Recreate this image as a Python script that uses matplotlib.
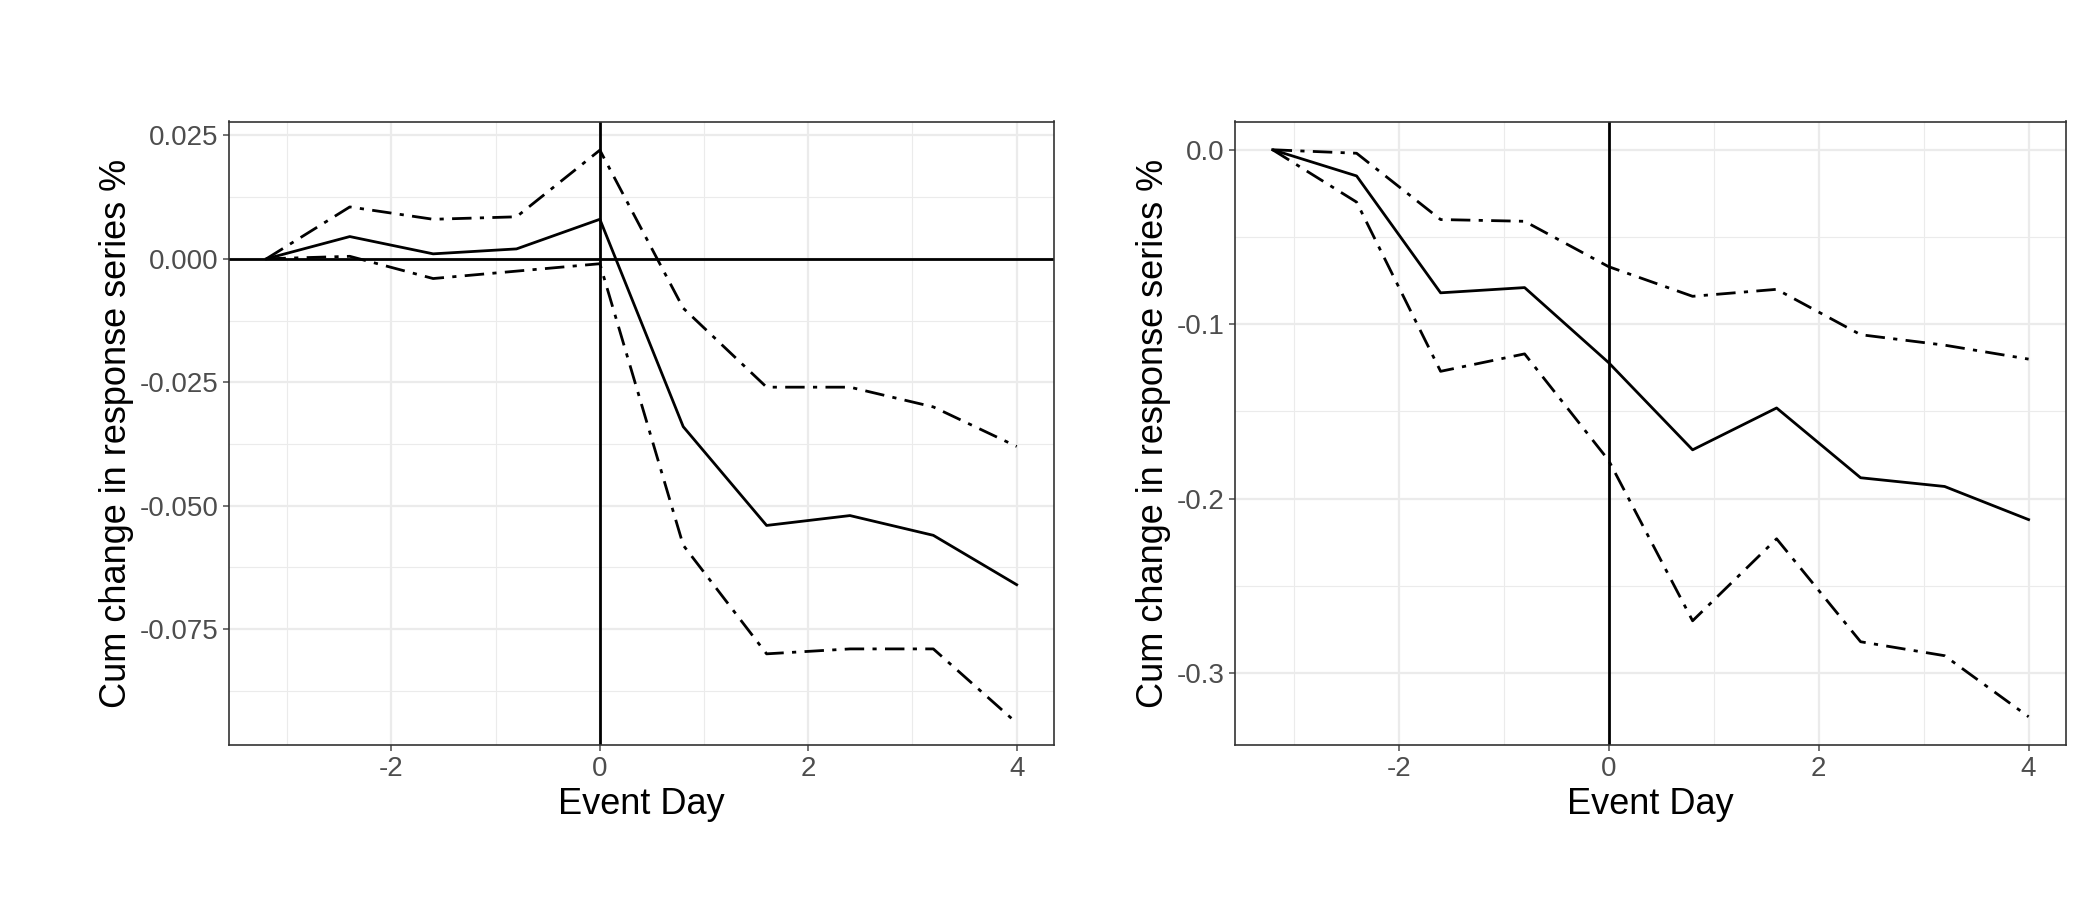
import matplotlib
matplotlib.use("Agg")
import matplotlib.pyplot as plt
from matplotlib.ticker import MultipleLocator

plt.rcParams['font.family'] = ['Liberation Sans', 'DejaVu Sans']
plt.rcParams['axes.unicode_minus'] = False

days = [-3.2, -2.4, -1.6, -0.8, 0.0, 0.8, 1.6, 2.4, 3.2, 4.0]
left_mid = [0, 0.0045, 0.001, 0.002, 0.008, -0.034, -0.054, -0.052, -0.056, -0.066]
left_up = [0, 0.0105, 0.008, 0.0085, 0.022, -0.010, -0.026, -0.026, -0.030, -0.038]
left_lo = [0, 0.0005, -0.004, -0.0025, -0.001, -0.058, -0.080, -0.079, -0.079, -0.094]
right_mid = [0, -0.015, -0.082, -0.079, -0.122, -0.172, -0.148, -0.188, -0.193, -0.212]
right_up = [0, -0.002, -0.040, -0.041, -0.067, -0.084, -0.080, -0.106, -0.112, -0.120]
right_lo = [0, -0.030, -0.127, -0.117, -0.178, -0.270, -0.223, -0.282, -0.290, -0.325]

fig = plt.figure(figsize=(21, 9), dpi=100)
ax1 = fig.add_axes([0.109, 0.172, 0.393, 0.693])
ax2 = fig.add_axes([0.588, 0.172, 0.396, 0.693])
dd = (0, (7, 3, 1.5, 3))

def style(ax, ylim, major, minor, fmt):
    ax.set_xlim(-3.56, 4.36)
    ax.set_ylim(*ylim)
    ax.xaxis.set_major_locator(MultipleLocator(2))
    ax.xaxis.set_minor_locator(MultipleLocator(1))
    ax.yaxis.set_major_locator(MultipleLocator(major))
    ax.yaxis.set_minor_locator(MultipleLocator(minor))
    ax.yaxis.set_major_formatter(fmt)
    ax.grid(which='major', color='#ebebeb', lw=1.6)
    ax.grid(which='minor', color='#ebebeb', lw=0.8)
    ax.set_axisbelow(True)
    for s in ax.spines.values():
        s.set_color('#333333'); s.set_linewidth(1.2)
    ax.tick_params(which='major', labelsize=20, colors='#4d4d4d', length=4, width=1.1)
    ax.tick_params(which='minor', length=0)
    ax.set_xlabel('Event Day', fontsize=26)
    ax.set_ylabel('Cum change in response series %', fontsize=26)

for ax, m, u, l in [(ax1, left_mid, left_up, left_lo), (ax2, right_mid, right_up, right_lo)]:
    ax.axvline(0, color='black', lw=2)
    ax.plot(days, m, color='black', lw=2)
    ax.plot(days, u, color='black', lw=2, linestyle=dd)
    ax.plot(days, l, color='black', lw=2, linestyle=dd)
ax1.axhline(0, color='black', lw=2)

style(ax1, (-0.0985, 0.0278), 0.025, 0.0125, lambda v, p: f"{v:.3f}")
style(ax2, (-0.3413, 0.0162), 0.1, 0.05, lambda v, p: f"{v:.1f}")

fig.savefig('out.png', dpi=100)
